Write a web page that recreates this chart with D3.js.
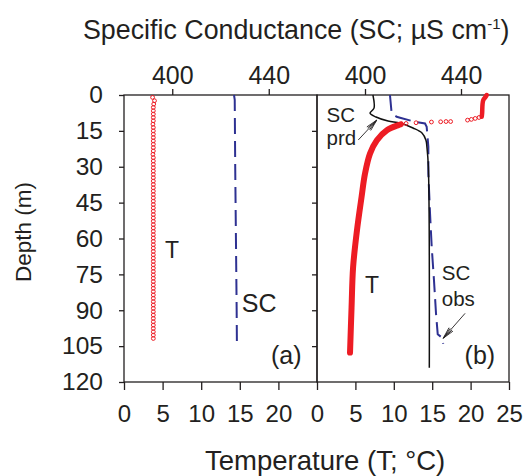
<!DOCTYPE html>
<html>
<head>
<meta charset="utf-8">
<script src="https://cdn.jsdelivr.net/npm/d3@7/dist/d3.min.js"></script>
<style>
    body { margin: 0; background: #fff; }
    text { font-family: "Liberation Sans", Arial, sans-serif; fill: #231f20; }
</style>
</head>
<body>
<svg id="chart"></svg>
<script>
//tick values
var depthTicks = [0, 15, 30, 45, 60, 75, 90, 105, 120];
var tempTicksA = [0, 5, 10, 15, 20];
var tempTicksB = [0, 5, 10, 15, 20, 25];
var scTicks = [400, 440];

//panel (a): temperature profile (circles)
var aTempDepth = [1.0, 2.4, 3.8, 5.2, 6.6, 8.0, 9.4, 10.8, 12.2, 13.6, 15.0, 16.4, 17.8, 19.2, 20.6,
    22.0, 23.4, 24.8, 26.2, 27.6, 29.0, 30.4, 31.8, 33.2, 34.6, 36.0, 37.4, 38.8, 40.2, 41.6,
    43.0, 44.4, 45.8, 47.2, 48.6, 50.0, 51.4, 52.8, 54.2, 55.6, 57.0, 58.4, 59.8, 61.2, 62.6,
    64.0, 65.4, 66.8, 68.2, 69.6, 71.0, 72.4, 73.8, 75.2, 76.6, 78.0, 79.4, 80.8, 82.2, 83.6,
    85.0, 86.4, 87.8, 89.2, 90.6, 92.0, 93.4, 94.8, 96.2, 97.6, 99.0, 100.4, 101.8];
var aTempValue = [3.7, 3.95, 3.85, 3.8, 3.8, 3.8, 3.8, 3.8, 3.75, 3.8, 3.8, 3.8, 3.8, 3.8, 3.8,
    3.8, 3.8, 3.75, 3.8, 3.8, 3.8, 3.8, 3.8, 3.8, 3.8, 3.8, 3.8, 3.8, 3.8, 3.8,
    3.8, 3.8, 3.8, 3.8, 3.8, 3.8, 3.8, 3.8, 3.8, 3.8, 3.8, 3.8, 3.8, 3.8, 3.8,
    3.8, 3.8, 3.8, 3.8, 3.8, 3.8, 3.8, 3.8, 3.8, 3.8, 3.8, 3.8, 3.8, 3.8, 3.8,
    3.8, 3.8, 3.8, 3.8, 3.8, 3.8, 3.8, 3.8, 3.8, 3.8, 3.8, 3.8, 3.8];

//panel (a): observed specific conductance
var aScDepth = [0, 2, 30, 60, 90, 104];
var aScValue = [425.6, 425.9, 426.1, 426.4, 426.7, 426.8];

//panel (b): temperature, dense parts (drawn thick) and sparse circles
var bTempTopDepth = [0, 1, 2.1, 4, 7.7, 9.1];
var bTempTopValue = [22.1, 21.9, 21.65, 21.55, 21.5, 21.45];
var bTempCircleDepth = [9.4, 9.8, 10.2, 10.5, 11.1, 11.1, 11.2, 11.3, 11.6, 11.9, 12.1];
var bTempCircleValue = [21.1, 20.6, 20.1, 19.6, 17.4, 16.8, 16.1, 14.9, 12.9, 11.6, 11.0];
var bTempLowDepth = [12.3, 12.6, 14.7, 18.9, 24.5, 32.9, 42.7, 56.7, 72, 88.8, 107.7];
var bTempLowValue = [10.9, 10.6, 9.1, 7.8, 6.9, 6.25, 5.8, 5.2, 4.7, 4.5, 4.3];

//panel (b): observed SC
var bScObsDepth = [0, 7.7, 9.1, 9.5, 11.2, 11.9, 13.3, 21.7, 32.9, 49.6, 63.6, 77.6, 91.5, 100, 101.4, 104];
var bScObsValue = [410.4, 411.1, 413.2, 414.6, 420.8, 425, 425.7, 426.4, 426.4, 427.1, 427.8, 428.75, 429.6, 430.3, 432, 432.6];

//panel (b): predicted SC
var bScPrdDepth = [0, 5.5, 7.6, 9.2, 10.9, 11.7, 13.8, 15.9, 18.9, 21.8, 30, 114];
var bScPrdValue = [403.3, 403.75, 402.1, 404.6, 409.6, 414.6, 420, 423.75, 425.4, 425.8, 426.4, 426.8];

var red = '#ed1c24';
var blue = '#2e3192';
var ink = '#231f20';

var width = 526, height = 476;
var svg = d3.select('#chart')
    .attr('width', width)
    .attr('height', height);

//scales
var y = d3.scaleLinear().domain([0, 120]).range([95, 382]);
var tA = d3.scaleLinear().domain([0, 25]).range([124, 317]);
var tB = d3.scaleLinear().domain([0, 25]).range([317, 509]);
var scA = d3.scaleLinear().domain([380, 460]).range([124, 317]);
var scB = d3.scaleLinear().domain([380, 460]).range([317, 509]);

function zip(depths, values) {
    return depths.map(function(d, i) { return {d: d, v: values[i]}; });
}

function styleAxis(g, size) {
    g.select('.domain').remove();
    g.selectAll('.tick line').attr('stroke', ink).attr('stroke-width', 1.3);
    g.selectAll('.tick text')
        .attr('font-size', size)
        .style('font-family', '"Liberation Sans", Arial, sans-serif')
        .attr('fill', ink);
}

//axes
svg.append('g')
    .attr('transform', 'translate(124,0)')
    .call(d3.axisLeft(y).tickValues(depthTicks).tickSize(5).tickPadding(16))
    .call(styleAxis, 24.5);

svg.append('g')
    .attr('transform', 'translate(317,0)')
    .call(d3.axisLeft(y).tickValues(depthTicks.slice(1, -1)).tickSize(5).tickFormat(''))
    .call(styleAxis, 0);

[[tA, tempTicksA], [tB, tempTicksB]].forEach(function(p) {
    svg.append('g')
        .attr('transform', 'translate(0,382)')
        .call(d3.axisBottom(p[0]).tickValues(p[1]).tickSize(8).tickPadding(15))
        .call(styleAxis, 24);
});

[scA, scB].forEach(function(s) {
    svg.append('g')
        .attr('transform', 'translate(0,95)')
        .call(d3.axisTop(s).tickValues(scTicks).tickSize(6).tickPadding(5))
        .call(styleAxis, 25);
});

//panel frames
[tA, tB].forEach(function(s) {
    var r = s.range();
    svg.append('rect')
        .attr('x', r[0])
        .attr('y', y(0))
        .attr('width', r[1] - r[0])
        .attr('height', y(120) - y(0))
        .attr('fill', 'none')
        .attr('stroke', ink)
        .attr('stroke-width', 1.3);
});

//panel (a) marks
svg.append('path')
    .datum(zip(aScDepth, aScValue))
    .attr('fill', 'none')
    .attr('stroke', blue)
    .attr('stroke-width', 2)
    .attr('stroke-dasharray', '16,7')
    .attr('d', d3.line().x(function(d) { return scA(d.v); }).y(function(d) { return y(d.d); }));

svg.append('g')
    .selectAll('circle')
    .data(zip(aTempDepth, aTempValue))
    .join('circle')
    .attr('cx', function(d) { return tA(d.v); })
    .attr('cy', function(d) { return y(d.d); })
    .attr('r', 1.9)
    .attr('fill', 'none')
    .attr('stroke', red)
    .attr('stroke-width', 1);

//panel (b) marks
var tLine = d3.line()
    .x(function(d) { return tB(d.v); })
    .y(function(d) { return y(d.d); })
    .curve(d3.curveCatmullRom);

svg.append('path')
    .datum(zip(bScObsDepth, bScObsValue))
    .attr('fill', 'none')
    .attr('stroke', blue)
    .attr('stroke-width', 2)
    .attr('stroke-dasharray', '16,7')
    .attr('d', d3.line().x(function(d) { return scB(d.v); }).y(function(d) { return y(d.d); }));

svg.append('path')
    .datum(zip(bScPrdDepth, bScPrdValue))
    .attr('fill', 'none')
    .attr('stroke', '#111')
    .attr('stroke-width', 1.5)
    .attr('d', d3.line().x(function(d) { return scB(d.v); }).y(function(d) { return y(d.d); })
        .curve(d3.curveCatmullRom));

[[bTempTopDepth, bTempTopValue, 4.5], [bTempLowDepth, bTempLowValue, 6]].forEach(function(p) {
    svg.append('path')
        .datum(zip(p[0], p[1]))
        .attr('fill', 'none')
        .attr('stroke', red)
        .attr('stroke-width', p[2])
        .attr('stroke-linecap', 'round')
        .attr('d', tLine);
});

svg.append('g')
    .selectAll('circle')
    .data(zip(bTempCircleDepth, bTempCircleValue))
    .join('circle')
    .attr('cx', function(d) { return tB(d.v); })
    .attr('cy', function(d) { return y(d.d); })
    .attr('r', 1.9)
    .attr('fill', 'none')
    .attr('stroke', red)
    .attr('stroke-width', 1);

//feathered arrows used for the SC labels
function arrow(x1, y1, x2, y2) {
    var g = svg.append('g').attr('stroke', ink).attr('stroke-width', 0.9).attr('fill', 'none');
    g.append('line').attr('x1', x1).attr('y1', y1).attr('x2', x2).attr('y2', y2);
    var ang = Math.atan2(y1 - y2, x1 - x2);
    [-0.22, -0.11, 0.11, 0.22].forEach(function(a) {
        g.append('line')
            .attr('x1', x2).attr('y1', y2)
            .attr('x2', x2 + 12 * Math.cos(ang + a))
            .attr('y2', y2 + 12 * Math.sin(ang + a));
    });
}
arrow(scB(397.2), y(18.8), scB(404.9), y(10.5));
arrow(scB(441.7), y(91.3), scB(432.6), y(101.7));

//labels inside the panels
function label(txt, x, yy, size, anchor) {
    svg.append('text')
        .attr('x', x)
        .attr('y', yy)
        .attr('font-size', size)
        .attr('text-anchor', anchor || 'start')
        .text(txt);
}
label('T', tA(5.3), y(68.1), 23);
label('SC', scA(428.8), y(90.6), 25);
label('(a)', tA(23.0), y(112.5), 25, 'end');
label('T', tB(6.25), y(82.9), 23);
label('SC', scB(384), y(11.2), 20.5);
label('prd', scB(384), y(20.9), 20.5);
label('SC', scB(432), y(77.3), 20.5);
label('obs', scB(432), y(88.2), 20.5);
label('(b)', tB(23.2), y(112.5), 25, 'end');

//axis titles
var title = svg.append('text')
    .attr('x', 83)
    .attr('y', 39)
    .attr('font-size', 26.8);
title.append('tspan').text('Specific Conductance (SC; \u00b5S cm');
title.append('tspan').attr('font-size', 15).attr('dy', -10).text('-1');
title.append('tspan').attr('dy', 10).text(')');

svg.append('text')
    .attr('x', 205)
    .attr('y', 470)
    .attr('font-size', 27.5)
    .text('Temperature (T; \u00b0C)');

svg.append('text')
    .attr('transform', 'translate(31,232) rotate(-90)')
    .attr('text-anchor', 'middle')
    .attr('font-size', 22.5)
    .text('Depth (m)');
</script>
</body>
</html>
